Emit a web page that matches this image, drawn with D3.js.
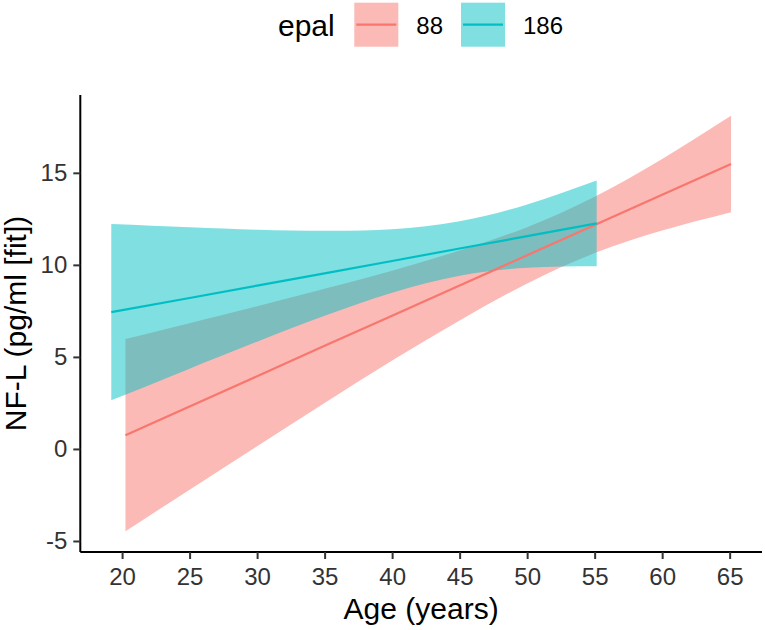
<!DOCTYPE html>
<html>
<head>
<meta charset="utf-8">
<script src="https://cdn.jsdelivr.net/npm/d3@7"></script>
<style>
  body { margin: 0; background: #fff; }
  text { font-family: "Liberation Sans", Arial, sans-serif; }
</style>
</head>
<body>
<svg id="chart" width="765" height="630"></svg>
<script>
// groups of the legend
let groups = ["88", "186"];
let colors = ["#F8766D", "#00BFC4"];

// epal 88
let ages88  = [20.25, 25, 30, 35, 40, 45, 50, 55, 60, 65.1];
let fit88   = [0.75, 2.31, 3.95, 5.60, 7.24, 8.88, 10.52, 12.17, 13.81, 15.48];
let upper88 = [5.97, 6.83, 7.75, 8.70, 9.68, 10.78, 12.05, 13.70, 15.75, 18.1];
let lower88 = [-4.47, -2.21, 0.15, 2.50, 4.80, 6.98, 8.99, 10.64, 11.87, 12.86];

// epal 186
let ages186  = [19.2, 25, 30, 35, 40, 45, 50, 55.15];
let fit186   = [7.43, 8.20, 8.87, 9.54, 10.21, 10.89, 11.56, 12.25];
let upper186 = [12.22, 12.04, 11.91, 11.85, 11.93, 12.37, 13.28, 14.58];
let lower186 = [2.64, 4.36, 5.83, 7.23, 8.49, 9.41, 9.84, 9.92];

let xTicks = [20, 25, 30, 35, 40, 45, 50, 55, 60, 65];
let yTicks = [-5, 0, 5, 10, 15];

// plot panel edges (don't call it "top", that's window.top)
let pLeft = 80.3, pRight = 762, pTop = 95, pBottom = 552;

let series = [
  {ages: ages88, fit: fit88, up: upper88, lo: lower88},
  {ages: ages186, fit: fit186, up: upper186, lo: lower186}
];

// ggplot style 5% expansion
function expand(ext) {
  let r = ext[1] - ext[0];
  return [ext[0] - r * 0.05, ext[1] + r * 0.05];
}
let xExt = d3.extent(ages88.concat(ages186));
let yExt = d3.extent(upper88.concat(lower88, upper186, lower186));

let x = d3.scaleLinear().domain(expand(xExt)).range([pLeft, pRight]);
let y = d3.scaleLinear().domain(expand(yExt)).range([pBottom, pTop]);

let svg = d3.select("#chart");

// ribbons first (red then cyan on top)
series.forEach(function(s, i) {
  let rows = s.ages.map(function(a, j) { return {a: a, up: s.up[j], lo: s.lo[j]}; });
  let area = d3.area()
      .curve(d3.curveNatural)
      .x(function(d) { return x(d.a); })
      .y0(function(d) { return y(d.lo); })
      .y1(function(d) { return y(d.up); });
  svg.append("path")
      .datum(rows)
      .attr("d", area)
      .attr("fill", colors[i])
      .attr("fill-opacity", 0.5);
});

// fit lines
series.forEach(function(s, i) {
  let rows = s.ages.map(function(a, j) { return {a: a, f: s.fit[j]}; });
  let line = d3.line()
      .x(function(d) { return x(d.a); })
      .y(function(d) { return y(d.f); });
  svg.append("path")
      .datum(rows)
      .attr("d", line)
      .attr("fill", "none")
      .attr("stroke", colors[i])
      .attr("stroke-width", 2.2);
});

// axes - plain hyphen for negatives like R does
let fmt = function(d) { return String(d); };
let xAxis = d3.axisBottom(x).tickValues(xTicks).tickFormat(fmt).tickSize(7).tickPadding(9).tickSizeOuter(0);
let yAxis = d3.axisLeft(y).tickValues(yTicks).tickFormat(fmt).tickSize(7).tickPadding(6).tickSizeOuter(0);

let gx = svg.append("g")
    .attr("transform", "translate(0," + pBottom + ")")
    .call(xAxis);
let gy = svg.append("g")
    .attr("transform", "translate(" + pLeft + ",0)")
    .call(yAxis);

[gx, gy].forEach(function(g) {
  g.select(".domain").attr("stroke", "#000").attr("stroke-width", 2);
  g.selectAll(".tick line").attr("stroke", "#333").attr("stroke-width", 2);
  g.selectAll(".tick text")
      .attr("fill", "#333")
      .style("font-size", "24px")
      .style("font-family", "Liberation Sans, Arial, sans-serif");
});
gx.select(".domain").attr("d", "M" + pLeft + ",0H" + pRight);
gy.select(".domain").attr("d", "M0," + pTop + "V" + pBottom);

// axis titles
svg.append("text")
    .attr("x", (pLeft + pRight) / 2)
    .attr("y", 619)
    .attr("text-anchor", "middle")
    .style("font-size", "30px")
    .text("Age (years)");

svg.append("text")
    .attr("transform", "translate(26," + (pTop + pBottom) / 2 + ") rotate(-90)")
    .attr("text-anchor", "middle")
    .style("font-size", "30px")
    .text("NF-L (pg/ml [fit])");

// legend
let legend = svg.append("g");
legend.append("text")
    .attr("x", 278)
    .attr("y", 36)
    .style("font-size", "30px")
    .text("epal");

let keyX = [354.3, 461];
groups.forEach(function(g, i) {
  legend.append("rect")
      .attr("x", keyX[i])
      .attr("y", 2.7)
      .attr("width", 44)
      .attr("height", 44)
      .attr("fill", colors[i])
      .attr("fill-opacity", 0.5);
  legend.append("line")
      .attr("x1", keyX[i] + 2)
      .attr("x2", keyX[i] + 42)
      .attr("y1", 24.7)
      .attr("y2", 24.7)
      .attr("stroke", colors[i])
      .attr("stroke-width", 2.2);
  legend.append("text")
      .attr("x", keyX[i] + 62)
      .attr("y", 33.5)
      .style("font-size", "24px")
      .text(g);
});
</script>
</body>
</html>
